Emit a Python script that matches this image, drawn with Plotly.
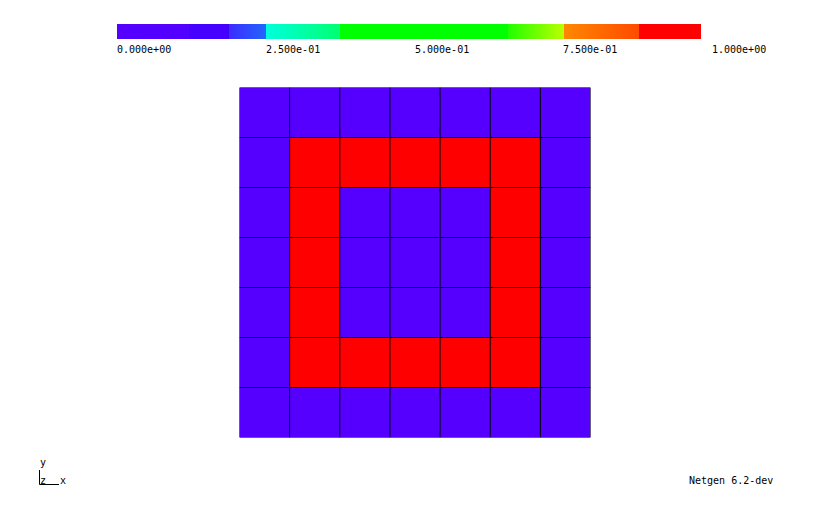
import numpy as np
import plotly.graph_objects as go

W, H = 830, 525

# ---- data ----
ROWS = ["r0", "r1", "r2", "r3", "r4", "r5", "r6"]  # top to bottom
COLS = ["c0", "c1", "c2", "c3", "c4", "c5", "c6"]
CELL_VALUES = [
    [0, 0, 0, 0, 0, 0, 0],
    [0, 1, 1, 1, 1, 1, 0],
    [0, 1, 0, 0, 0, 1, 0],
    [0, 1, 0, 0, 0, 1, 0],
    [0, 1, 0, 0, 0, 1, 0],
    [0, 1, 1, 1, 1, 1, 0],
    [0, 0, 0, 0, 0, 0, 0],
]
CB_TICK_VALUES = [0.0, 0.25, 0.5, 0.75, 1.0]

# colour map (Netgen style, stepped)
CB_STOPS = [0.0, 0.123, 0.123, 0.192, 0.192, 0.255, 0.255, 0.382, 0.382,
            0.670, 0.670, 0.765, 0.765, 0.894, 0.894, 1.0]
CB_COLORS = ['#5500ff', '#5200ff', '#4700ff', '#4400ff', '#3b2cff', '#2266ff',
             '#00ffdd', '#00ff70', '#00ff00', '#00ff00', '#20ff00', '#bbff00',
             '#ff8800', '#ff4a00', '#ff0000', '#ff0000']
COLORSCALE = [[s, c] for s, c in zip(CB_STOPS, CB_COLORS)]

FONT = "DejaVu Sans Mono"

nrow = len(ROWS)
ncol = len(COLS)
# flip so that the first row is drawn at the top
z = CELL_VALUES[::-1]

fig = go.Figure()

fig.add_trace(go.Heatmap(
    z=z, x=np.arange(ncol) + 0.5, y=np.arange(nrow) + 0.5,
    colorscale=COLORSCALE, zmin=0, zmax=1, showscale=False,
    hoverinfo="skip", xaxis="x", yaxis="y",
))

# mesh lines
gx, gy = [], []
for i in range(ncol + 1):
    gx += [i, i, None]
    gy += [0, nrow, None]
for j in range(nrow + 1):
    gx += [0, ncol, None]
    gy += [j, j, None]
fig.add_trace(go.Scatter(x=gx, y=gy, mode="lines",
                         line=dict(color="black", width=1),
                         hoverinfo="skip", showlegend=False,
                         xaxis="x", yaxis="y"))

# colour bar
NB = 584
cb = (np.arange(NB) + 0.5) / NB
fig.add_trace(go.Heatmap(
    z=[cb], x=cb, y=[0],
    colorscale=COLORSCALE, zmin=0, zmax=1, showscale=False,
    hoverinfo="skip", xaxis="x2", yaxis="y2",
))

# layout positions (pixels)
gl, gr, gt, gb = 239.5, 590.5, 87.5, 437.5
bl, br, bt, bb = 117, 701, 24, 39

noax = dict(showgrid=False, zeroline=False, showticklabels=False,
            ticks="", showline=False, fixedrange=True)

TXT = dict(family=FONT, size=10, color="black")
annotations = []
LABEL_SPAN = 595
for v in CB_TICK_VALUES:
    annotations.append(dict(
        text=f"{v:.3e}", x=(bl - 2 + v * LABEL_SPAN) / W, y=1 - 49.5 / H,
        xref="paper", yref="paper", xanchor="left", yanchor="middle",
        showarrow=False, font=TXT))

annotations += [
    dict(text="y", x=37.5 / W, y=1 - 462 / H, xref="paper", yref="paper",
         xanchor="left", yanchor="middle", showarrow=False, font=TXT),
    dict(text="z", x=38 / W, y=1 - 480 / H, xref="paper", yref="paper",
         xanchor="left", yanchor="middle", showarrow=False, font=TXT),
    dict(text="x", x=57.5 / W, y=1 - 480 / H, xref="paper", yref="paper",
         xanchor="left", yanchor="middle", showarrow=False, font=TXT),
    dict(text="Netgen 6.2-dev", x=687 / W, y=1 - 480 / H, xref="paper",
         yref="paper", xanchor="left", yanchor="middle", showarrow=False,
         font=TXT),
]

shapes = [
    dict(type="line", xref="paper", yref="paper",
         x0=39.5 / W, x1=39.5 / W, y0=1 - 470 / H, y1=1 - 484.5 / H,
         line=dict(color="black", width=1)),
    dict(type="line", xref="paper", yref="paper",
         x0=39.5 / W, x1=59 / W, y0=1 - 484.5 / H, y1=1 - 484.5 / H,
         line=dict(color="black", width=1)),
]

fig.update_layout(
    width=W, height=H, margin=dict(l=0, r=0, t=0, b=0),
    paper_bgcolor="white", plot_bgcolor="white", showlegend=False,
    xaxis=dict(domain=[gl / W, gr / W], range=[0, ncol], **noax),
    yaxis=dict(domain=[1 - gb / H, 1 - gt / H], range=[0, nrow], **noax),
    xaxis2=dict(domain=[bl / W, br / W], range=[0, 1], anchor="y2", **noax),
    yaxis2=dict(domain=[1 - bb / H, 1 - bt / H], range=[-0.5, 0.5],
                anchor="x2", **noax),
    annotations=annotations, shapes=shapes,
)

fig.write_html("out.html", config=dict(displayModeBar=False))
